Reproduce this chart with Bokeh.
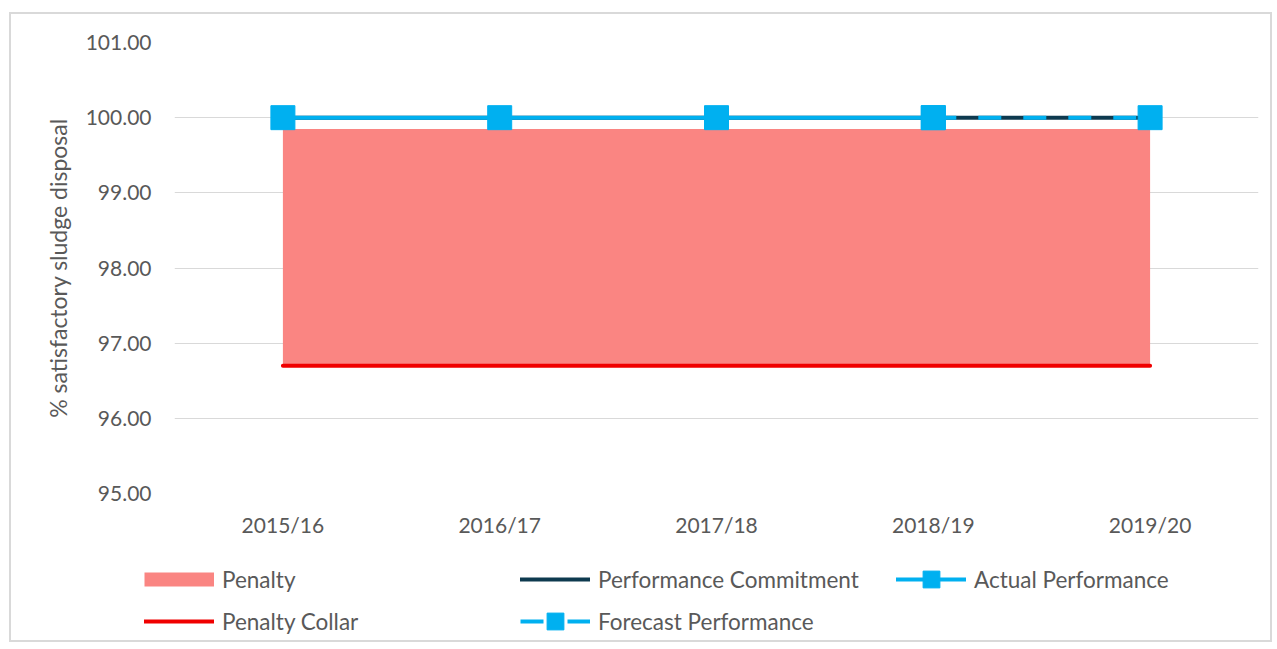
from bokeh.plotting import figure
from bokeh.layouts import column
from bokeh.models import (FactorRange, Range1d, NumeralTickFormatter, Legend, LegendItem,
                          FixedTicker, Plot)
from bokeh.embed import file_html
from bokeh.resources import INLINE

years = ["2015/16", "2016/17", "2017/18", "2018/19", "2019/20"]
penalty_top = [99.85, 99.85, 99.85, 99.85, 99.85]
penalty_collar = [96.7, 96.7, 96.7, 96.7, 96.7]
commitment = [100.0, 100.0, 100.0, 100.0, 100.0]
actual_years = ["2015/16", "2016/17", "2017/18", "2018/19"]
actual = [100.0, 100.0, 100.0, 100.0]
forecast_years = ["2018/19", "2019/20"]
forecast = [100.0, 100.0]
y_ticks = [95, 96, 97, 98, 99, 100, 101]
legend_labels = ["Penalty", "Performance Commitment", "Actual Performance",
                 "Penalty Collar", "Forecast Performance"]

FONT = "Lato"
FS = "21px"
TXT = "#595959"
BLUE = "#00B0F0"
DARK = "#0E3A4F"
PINK = "#FA8582"
RED = "#F00000"

# ---------------- main chart ----------------
p = figure(width=1259, height=529, x_range=FactorRange(factors=years),
           y_range=Range1d(95, 101), output_backend="svg", toolbar_location=None,
           min_border_left=163, min_border_right=12, min_border_top=28, min_border_bottom=50)
p.outline_line_color = None
p.xgrid.grid_line_color = None
p.ygrid.grid_line_color = "#d9d9d9"
p.ygrid.grid_line_width = 1

p.yaxis.ticker = FixedTicker(ticks=y_ticks)
p.yaxis.formatter = NumeralTickFormatter(format="0.00")
for ax in (p.xaxis[0], p.yaxis[0]):
    ax.axis_line_color = None
    ax.major_tick_line_color = None
    ax.minor_tick_line_color = None
    ax.major_tick_out = 0
    ax.major_tick_in = 0
    ax.major_label_text_font = FONT
    ax.major_label_text_font_size = FS
    ax.major_label_text_color = TXT
p.xaxis.major_label_standoff = 18
p.yaxis.major_label_standoff = 23
p.yaxis.axis_label = "% satisfactory sludge disposal"
p.yaxis.axis_label_text_font = FONT
p.yaxis.axis_label_text_font_size = "23px"
p.yaxis.axis_label_text_font_style = "normal"
p.yaxis.axis_label_text_color = TXT
p.yaxis.axis_label_standoff = 11

p.varea(x=years, y1=penalty_collar, y2=penalty_top, fill_color=PINK, fill_alpha=1)
p.line(years, penalty_collar, line_color=RED, line_width=4, line_cap="round")
p.line(years, commitment, line_color=DARK, line_width=4, line_cap="round")
p.line(actual_years, actual, line_color=BLUE, line_width=4, line_cap="round")
p.scatter(actual_years, actual, marker="square", size=24, fill_color=BLUE, line_color=BLUE)
p.line(forecast_years, forecast, line_color=BLUE, line_width=4, line_dash="23 22", line_cap="butt")
p.scatter(forecast_years, forecast, marker="square", size=24, fill_color=BLUE, line_color=BLUE)

# ---------------- legend strip (same series, drawn out of view) ----------------
q = figure(width=1259, height=97, x_range=FactorRange(factors=years), y_range=Range1d(0, 1),
           output_backend="svg", toolbar_location=None, x_axis_location=None,
           y_axis_location=None, min_border=0)
q.outline_line_color = None
q.grid.visible = False

l_pen = q.line(years, penalty_top, line_color=PINK, line_width=14, line_cap="butt")
l_com = q.line(years, commitment, line_color=DARK, line_width=4, line_cap="round")
l_act = q.line(actual_years, actual, line_color=BLUE, line_width=4, line_cap="round")
m_act = q.scatter(actual_years, actual, marker="square", fill_color=BLUE, line_color=BLUE)
l_col = q.line(years, penalty_collar, line_color=RED, line_width=4, line_cap="round")
l_fc = q.line(forecast_years, forecast, line_color=BLUE, line_width=4, line_dash="23 24",
              line_cap="butt")
m_fc = q.scatter(forecast_years, forecast, marker="square", fill_color=BLUE, line_color=BLUE)

legend = Legend(items=[
    LegendItem(label=legend_labels[0], renderers=[l_pen]),
    LegendItem(label=legend_labels[1], renderers=[l_com]),
    LegendItem(label=legend_labels[2], renderers=[l_act, m_act]),
    LegendItem(label=legend_labels[3], renderers=[l_col]),
    LegendItem(label=legend_labels[4], renderers=[l_fc, m_fc]),
], location=(133, -2), orientation="horizontal", ncols=3,
    glyph_width=70, glyph_height=42, label_height=20, label_width=298,
    label_standoff=8, spacing=0, padding=0, margin=0,
    label_text_font=FONT, label_text_font_size="22.5px", label_text_color=TXT,
    border_line_color=None, background_fill_alpha=0, click_policy="none")
q.add_layout(legend, "center")

if "frame_align" in Plot.properties():
    p.frame_align = False
    q.frame_align = False

layout = column(p, q, spacing=0,
                styles={"border": "2px solid #d9d9d9", "margin": "12px 0 0 9px"})

open("out.html", "w").write(file_html(layout, INLINE))
